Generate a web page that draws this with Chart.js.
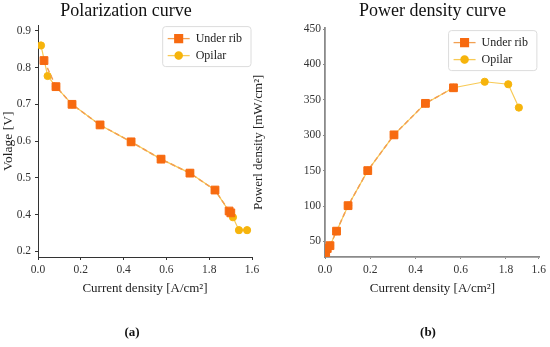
<!DOCTYPE html>
<html>
<head>
<meta charset="utf-8">
<script src="https://cdn.jsdelivr.net/npm/chart.js@4.4.0/dist/chart.umd.min.js"></script>
<style>
  html, body { margin: 0; padding: 0; background: #fff; overflow: hidden; }
  #wrap { position: relative; width: 550px; height: 347px; }
  #polChart { position: absolute; left: 0; top: 0; }
  #powChart { position: absolute; left: 250px; top: 0; }
  .cap { position: absolute; top: 324px; width: 40px; text-align: center;
         font: bold 13px 'Liberation Serif', 'DejaVu Serif', serif; color: #111; }
</style>
</head>
<body>
<div id="wrap">
  <canvas id="polChart" width="300" height="347"></canvas>
  <canvas id="powChart" width="300" height="347"></canvas>
  <div class="cap" style="left:112px">(a)</div>
  <div class="cap" style="left:408px">(b)</div>
</div>
<script>
// series names
const seriesNames = ["Under rib", "Opilar"];

// polarization curve (a)
const polCurrentRib = [0.028, 0.084, 0.159, 0.29, 0.435, 0.575, 0.71, 0.827, 0.893, 0.901];
const polVoltageRib = [0.819, 0.748, 0.70, 0.644, 0.598, 0.551, 0.513, 0.467, 0.410, 0.405];
const polCurrentOpilar = [0.014, 0.045, 0.084, 0.159, 0.29, 0.435, 0.575, 0.71, 0.827, 0.911, 0.939, 0.977];
const polVoltageOpilar = [0.860, 0.777, 0.748, 0.70, 0.644, 0.598, 0.551, 0.513, 0.467, 0.393, 0.358, 0.358];

// power density curve (b)
const powCurrentRib = [0.003, 0.010, 0.022, 0.051, 0.102, 0.189, 0.305, 0.444, 0.568];
const powDensityRib = [34, 40, 44, 64.5, 100.5, 150, 200.5, 245, 267];
const powCurrentOpilar = [0.003, 0.010, 0.022, 0.051, 0.102, 0.189, 0.305, 0.444, 0.568, 0.706, 0.81, 0.857];
const powDensityOpilar = [34, 40, 44, 64.5, 100.5, 150, 200.5, 245, 267, 275.5, 272, 239];

// tick labels as printed in the figure
const polXTickValues = [0, 0.2, 0.4, 0.6, 0.8, 1.0];
const powXTickValues = [0, 0.2, 0.4, 0.6, 0.8, 0.945];
const xTickLabels = ["0.0", "0.2", "0.4", "0.6", "1.8", "1.6"];
const polYTickLabels = ["0.2", "0.4", "0.5", "0.6", "0.7", "0.8", "0.9"];
const powYTickLabels = ["50", "100", "150", "300", "350", "400", "450"];

const serif = "'Liberation Serif', 'DejaVu Serif', serif";
Chart.defaults.font.family = serif;
Chart.defaults.color = '#333';

function pairs(xs, ys) {
    return xs.map((x, i) => ({ x: x, y: ys[i] }));
}

function makeDatasets(ribX, ribY, opX, opY) {
    return [
        {
            label: seriesNames[0],
            data: pairs(ribX, ribY),
            borderColor: '#f2a052',
            borderWidth: 1.5,
            borderDash: [5, 3],
            pointStyle: 'rect',
            pointRadius: 5.5,
            pointBackgroundColor: '#f76a10',
            pointBorderColor: '#f76a10',
            pointBorderWidth: 1,
            tension: 0
        },
        {
            label: seriesNames[1],
            data: pairs(opX, opY),
            borderColor: '#f8ca55',
            borderWidth: 1.2,
            pointStyle: 'circle',
            pointRadius: 3.6,
            pointBackgroundColor: '#f6b40c',
            pointBorderColor: '#f6b40c',
            pointBorderWidth: 1,
            tension: 0
        }
    ];
}

// legend drawn in a rounded box inside the plot, line + marker like the original
const boxLegend = {
    id: 'boxLegend',
    afterDatasetsDraw(chart, args, opts) {
        const ctx = chart.ctx;
        const area = chart.chartArea;
        const sets = chart.data.datasets;
        ctx.save();
        ctx.font = '12px ' + serif;
        const textW = Math.max(...sets.map(d => ctx.measureText(d.label).width));
        const w = textW + 42, h = 40;
        const x0 = area.right - w - opts.inset, y0 = area.top + opts.inset;
        ctx.beginPath();
        ctx.roundRect(x0, y0, w, h, 3);
        ctx.fillStyle = 'rgba(255,255,255,0.85)';
        ctx.fill();
        ctx.strokeStyle = '#dcdcdc';
        ctx.lineWidth = 1;
        ctx.stroke();
        sets.forEach((d, i) => {
            const cy = y0 + 12 + i * 17;
            ctx.beginPath();
            ctx.moveTo(x0 + 5, cy);
            ctx.lineTo(x0 + 27, cy);
            ctx.strokeStyle = d.borderColor;
            ctx.lineWidth = 1.3;
            ctx.stroke();
            ctx.fillStyle = d.pointBackgroundColor;
            ctx.strokeStyle = d.pointBorderColor;
            Chart.helpers.drawPoint(ctx, { pointStyle: d.pointStyle, radius: d.pointRadius, rotation: 0, borderWidth: 1 }, x0 + 16, cy);
            ctx.fillStyle = '#222';
            ctx.textBaseline = 'middle';
            ctx.textAlign = 'left';
            ctx.fillText(d.label, x0 + 33, cy);
        });
        ctx.restore();
    }
};

// (a) polarization curve
new Chart(document.getElementById('polChart'), {
    type: 'line',
    data: { datasets: makeDatasets(polCurrentRib, polVoltageRib, polCurrentOpilar, polVoltageOpilar) },
    plugins: [boxLegend],
    options: {
        responsive: false,
        animation: false,
        layout: { padding: { top: 0, right: 48, bottom: 45, left: 0 } },
        plugins: {
            legend: { display: false },
            tooltip: { enabled: false },
            boxLegend: { inset: 1 },
            title: {
                display: true,
                text: 'Polarization curve',
                color: '#111',
                font: { size: 18, weight: 'normal' },
                padding: { top: 0, bottom: 4 }
            }
        },
        scales: {
            x: {
                type: 'linear', min: 0, max: 1.0,
                afterBuildTicks: s => { s.ticks = polXTickValues.map(v => ({ value: v })); },
                afterFit: s => { s.height = 45; },
                ticks: { callback: (v, i) => xTickLabels[i], font: { size: 11.5 }, padding: 3, maxRotation: 0, autoSkip: false },
                grid: { drawOnChartArea: false, tickLength: 3, color: '#333' },
                border: { color: '#333', width: 1 },
                title: { display: true, text: 'Current density [A/cm²]', color: '#222', font: { size: 13 }, padding: { top: 0, bottom: 6 } }
            },
            y: {
                type: 'linear', min: 0.285, max: 0.914,
                afterFit: s => { s.width = 38; },
                ticks: { stepSize: 0.1, includeBounds: false, callback: (v, i) => polYTickLabels[i], font: { size: 11.5 }, padding: 4 },
                grid: { drawOnChartArea: false, tickLength: 3, color: '#333' },
                border: { color: '#333', width: 1 },
                title: { display: true, text: 'Volage [V]', color: '#222', font: { size: 13.5 }, padding: { top: 0, bottom: 0 } }
            }
        }
    }
});

// (b) power density curve
new Chart(document.getElementById('powChart'), {
    type: 'line',
    data: { datasets: makeDatasets(powCurrentRib, powDensityRib, powCurrentOpilar, powDensityOpilar) },
    plugins: [boxLegend],
    options: {
        responsive: false,
        animation: false,
        layout: { padding: { top: 0, right: 6, bottom: 45, left: 0 } },
        plugins: {
            legend: { display: false },
            tooltip: { enabled: false },
            boxLegend: { inset: 3 },
            title: {
                display: true,
                fullSize: false,
                text: 'Power density curve',
                color: '#111',
                font: { size: 18, weight: 'normal' },
                padding: { top: 0, bottom: 6 }
            }
        },
        scales: {
            x: {
                type: 'linear', min: 0, max: 0.95,
                afterBuildTicks: s => { s.ticks = powXTickValues.map(v => ({ value: v })); },
                afterFit: s => { s.height = 45; },
                ticks: { callback: (v, i) => xTickLabels[i], font: { size: 11.5 }, padding: 4, maxRotation: 0, autoSkip: false },
                grid: { drawOnChartArea: false, tickLength: 2, color: '#888' },
                border: { color: '#8a8a8a', width: 1.8 },
                title: { display: true, text: 'Current density [A/cm²]', color: '#222', font: { size: 13 }, padding: { top: 0, bottom: 6 } }
            },
            y: {
                type: 'linear', min: 28, max: 352,
                afterFit: s => { s.width = 75; },
                ticks: { stepSize: 50, includeBounds: false, callback: (v, i) => powYTickLabels[i], font: { size: 11.5 }, padding: 2 },
                grid: { drawOnChartArea: false, tickLength: 2, color: '#888' },
                border: { color: '#8a8a8a', width: 1.8 },
                title: { display: true, text: 'Powerl density [mW/cm²]', color: '#222', font: { size: 13 }, padding: { top: 1, bottom: 0 } }
            }
        }
    }
});
</script>
</body>
</html>
